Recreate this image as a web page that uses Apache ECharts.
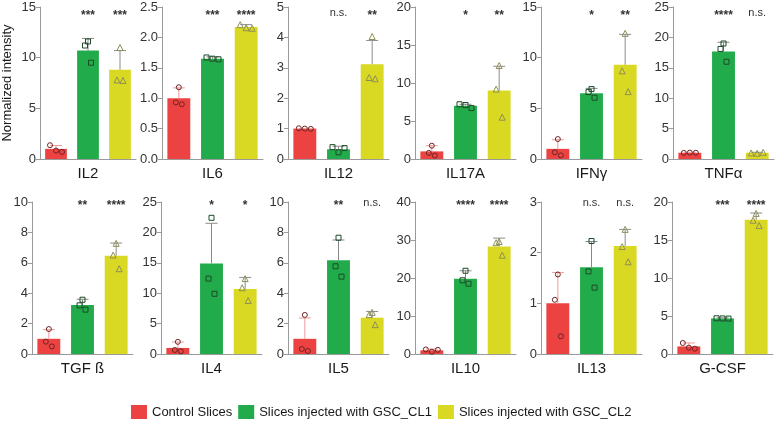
<!DOCTYPE html>
<html><head><meta charset="utf-8">
<script src="https://cdn.jsdelivr.net/npm/echarts@6/dist/echarts.min.js"></script>
<style>html,body{margin:0;padding:0;background:#fff}#c{width:775px;height:422px}</style>
</head><body><div id="c"></div>
<script>
// ---------- data ----------
const panels = ['IL2','IL6','IL12','IL17A','IFNγ','TNFα','TGF ß','IL4','IL5','IL10','IL13','G-CSF'];
const groups = ['Control Slices','Slices injected with GSC_CL1','Slices injected with GSC_CL2'];
const yMax  = [15, 2.5, 5, 20, 15, 25, 10, 25, 10, 40, 3, 20];
const yStep = [5, 0.5, 1, 5, 5, 5, 2, 5, 2, 10, 1, 5];

const controlMean = [1.0, 1.0, 1.0, 1.0, 1.0, 1.03, 1.0, 1.0, 1.0, 0.97, 1.0, 1.0];
const cl1Mean     = [10.7, 1.65, 0.32, 7.0, 6.5, 17.7, 3.22, 14.9, 6.16, 19.8, 1.71, 4.68];
const cl2Mean     = [8.8, 2.17, 3.12, 9.0, 9.3, 1.03, 6.47, 10.7, 2.39, 28.3, 2.13, 17.67];

const controlErrTop = [1.33, 1.17, 1.0, 1.75, 1.9, 1.1, 1.6, 1.97, 2.37, 1.3, 1.61, 1.45];
const cl1ErrTop     = [11.9, 1.68, 0.42, 7.2, 6.97, 19.2, 3.6, 21.5, 7.5, 21.9, 2.22, 4.75];
const cl2ErrTop     = [10.7, 2.21, 3.9, 12.2, 12.3, 1.1, 7.3, 12.6, 2.8, 30.5, 2.46, 18.55];

const controlPoints = [[1.36,0.83,0.7],[1.18,0.93,0.9],[1.01,1.0,0.99],[1.75,0.8,0.45],[1.97,0.66,0.36],[1.0,1.05,1.03],
                       [1.64,0.81,0.5],[2.0,0.66,0.44],[2.57,0.33,0.2],[1.2,0.6,1.1],[1.57,1.07,0.35],[1.45,0.83,0.7]];
const cl1Points = [[11.6,11.2,9.5],[1.67,1.65,1.64],[0.39,0.22,0.36],[7.2,7.1,6.7],[6.9,6.6,6.05],[19.0,18.1,16.0],
                   [3.57,3.2,2.92],[22.4,12.4,9.9],[7.65,5.77,5.09],[21.9,19.4,18.5],[2.23,1.63,1.31],[4.7,4.68,4.66]];
const cl2Points = [[11.0,7.8,7.75],[2.21,2.16,2.15],[4.03,2.68,2.64],[12.3,9.2,5.5],[12.4,8.7,6.65],[1.0,0.95,1.1],
                   [7.28,6.51,5.61],[12.4,10.9,8.8],[2.74,2.59,1.93],[29.6,29.3,26.0],[2.46,2.12,1.82],[18.5,17.6,16.9]];

const cl1Sig = ['***','***','n.s.','*','*','****','**','*','**','****','n.s.','***'];
const cl2Sig = ['***','****','**','**','**','n.s.','****','*','n.s.','****','n.s.','****'];

// ---------- style ----------
const barColors = ['#EC4242', '#22AB4B', '#D9D923'];
const errColors = ['#EE9A9A', '#888888', '#8C8C8C'];
const ptColors  = ['#6E2424', '#1D4A27', '#8F8F55'];
const ptSymbols = ['circle', 'rect', 'triangle'];
const FONT = 'Liberation Sans, Arial, Helvetica, sans-serif';
const gridLeft = [35, 162, 288, 415, 541, 673, 32, 161, 288, 415, 541, 672];
const GRID_W = 101, GRID_H = 152;
const rowTop = [7, 202];
const sigOffset = [9, 4];

const means = [controlMean, cl1Mean, cl2Mean];
const tops = [controlErrTop, cl1ErrTop, cl2ErrTop];
const pts = [controlPoints, cl1Points, cl2Points];

const grids = [], xAxes = [], yAxes = [], series = [];
panels.forEach((name, p) => {
  const row = p < 6 ? 0 : 1;
  grids.push({left: gridLeft[p], top: rowTop[row], width: GRID_W, height: GRID_H});
  xAxes.push({
    type: 'category', gridIndex: p, data: ['0','1','2'],
    axisLine: {lineStyle: {color: '#9a9a9a', width: 1}},
    axisTick: {show: false}, axisLabel: {show: false},
    name: name, nameLocation: 'middle', nameGap: 7,
    nameTextStyle: {fontSize: 15, color: '#1a1a1a', fontFamily: FONT, verticalAlign: 'top'}
  });
  const dec = yStep[p] < 1 ? 1 : 0;
  const ya = {
    type: 'value', gridIndex: p, min: 0, max: yMax[p], interval: yStep[p],
    axisLine: {show: true, lineStyle: {color: '#9a9a9a', width: 1}},
    axisTick: {show: true, length: 4, lineStyle: {color: '#9a9a9a'}},
    splitLine: {show: false},
    axisLabel: {fontSize: 13, color: '#333', margin: 4, fontFamily: FONT,
                formatter: v => v.toFixed(dec)}
  };
  if (p === 0) {
    ya.name = 'Normalized intensity'; ya.nameLocation = 'middle'; ya.nameGap = 26;
    ya.nameTextStyle = {fontSize: 13, color: '#1a1a1a', fontFamily: FONT};
  }
  yAxes.push(ya);

  // bars
  series.push({
    type: 'bar', xAxisIndex: p, yAxisIndex: p, barWidth: '68%', silent: true,
    data: [0,1,2].map(g => ({value: means[g][p], itemStyle: {color: barColors[g]}})),
    z: 2
  });
  // error bars (upper only)
  series.push({
    type: 'custom', xAxisIndex: p, yAxisIndex: p, z: 3, silent: true,
    data: [0,1,2].map(g => [g, means[g][p], tops[g][p]]),
    renderItem: (params, api) => {
      const g = api.value(0);
      const a = api.coord([g, api.value(1)]);
      const b = api.coord([g, api.value(2)]);
      const col = errColors[g];
      return {type: 'group', children: [
        {type: 'line', shape: {x1: a[0], y1: a[1], x2: b[0], y2: b[1]}, style: {stroke: col, lineWidth: 1}},
        {type: 'line', shape: {x1: b[0]-6, y1: b[1], x2: b[0]+6, y2: b[1]}, style: {stroke: col, lineWidth: 1}}
      ]};
    }
  });
  // individual points
  [0,1,2].forEach(g => {
    const vals = pts[g][p];
    const pxPerUnit = GRID_H / yMax[p];
    const range = (Math.max(...vals) - Math.min(...vals)) * pxPerUnit;
    const offs = range < 8 ? [-6, 0, 6] : [0, -3, 3];
    series.push({
      type: 'scatter', xAxisIndex: p, yAxisIndex: p, z: 4, silent: true,
      symbol: ptSymbols[g], symbolSize: g === 2 ? 6 : 5,
      itemStyle: {color: 'rgba(0,0,0,0)', borderColor: ptColors[g], borderWidth: 1, opacity: 1},
      data: vals.map((v, i) => ({value: [g, v], symbolOffset: [offs[i], 0]}))
    });
  });
  // significance labels
  series.push({
    type: 'custom', xAxisIndex: p, yAxisIndex: p, z: 5, silent: true,
    data: [[1, cl1Sig[p]], [2, cl2Sig[p]]],
    renderItem: (params, api) => {
      const idx = params.dataIndex;
      const c = api.coord([idx + 1, yMax[p]]);
      const txt = idx === 0 ? cl1Sig[p] : cl2Sig[p];
      const ns = txt === 'n.s.';
      return {type: 'text', x: c[0], y: c[1] + sigOffset[row] + (ns ? -3 : 0),
        style: {text: txt, textAlign: 'center', textVerticalAlign: 'middle', align: 'center', verticalAlign: 'middle',
                fill: '#333', font: (ns ? '11px ' : 'bold 12px ') + FONT}};
    }
  });
});

// legend dummy series
groups.forEach((gname, g) => {
  series.push({type: 'scatter', name: gname, xAxisIndex: 0, yAxisIndex: 0, data: [],
               itemStyle: {color: barColors[g], opacity: 1}});
});

const chart = echarts.init(document.getElementById('c'), null, {renderer: 'canvas'});
chart.setOption({
  animation: false,
  textStyle: {fontFamily: FONT},
  grid: grids, xAxis: xAxes, yAxis: yAxes, series: series,
  legend: {
    data: groups, left: 131, top: 405, padding: 0, icon: 'rect', itemWidth: 16, itemHeight: 14, itemGap: 6,
    itemStyle: {opacity: 1},
    textStyle: {fontSize: 13, color: '#1a1a1a', fontFamily: FONT},
    selectedMode: false
  }
});
</script></body></html>
